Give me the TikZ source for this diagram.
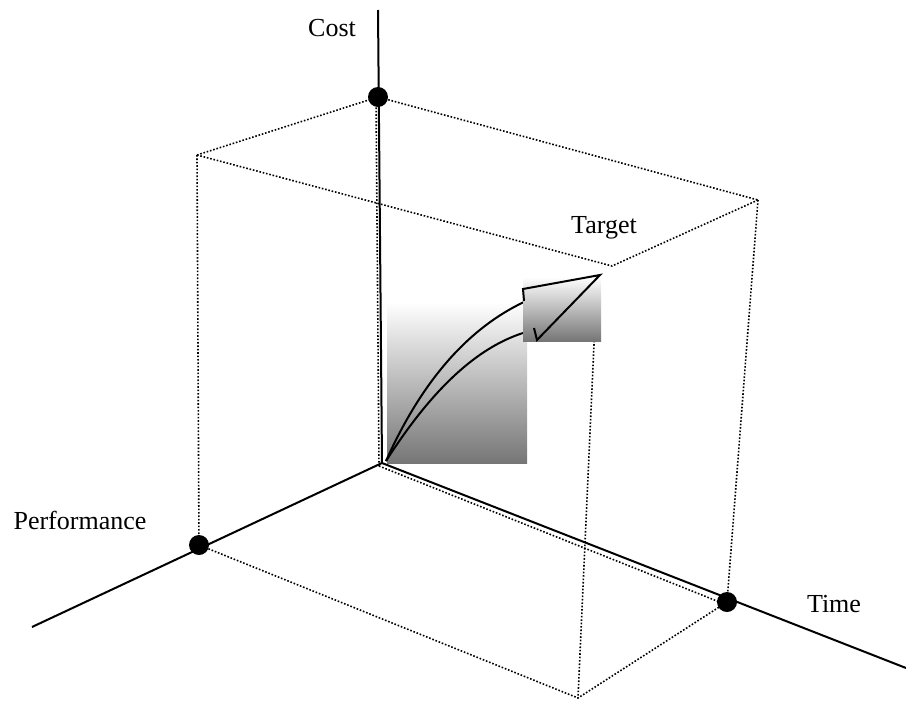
\documentclass[tikz,border=0pt]{standalone}
\usepackage{fontspec}
\setmainfont{Liberation Serif}
\definecolor{shadebot}{HTML}{767676}
\definecolor{shadetop}{HTML}{FFFFFF}
\begin{document}
\begin{tikzpicture}[x=1pt,y=-1pt,
  axis/.style={line width=2pt},
  hidden/.style={line width=1.6pt,dash pattern=on 1.6pt off 1.8pt},
  dot/.style={circle,fill=black,inner sep=0pt,minimum size=20pt},
  lbl/.style={font=\fontsize{26}{30}\selectfont,inner sep=0pt},
  arr/.style={line width=2pt,line join=miter},
  grad/.style={top color=shadetop,bottom color=shadebot,draw=none}]
\useasboundingbox (0,0) rectangle (906,702);
% coordinates
\coordinate (o) at (382,463);
\coordinate (oh) at (379,466);
\coordinate (costend) at (378,10);
\coordinate (perfend) at (32,627);
\coordinate (timeend) at (906,668);
\coordinate (a) at (197,155);
\coordinate (b) at (758,200);
\coordinate (f) at (612,266);
\coordinate (fv) at (596,300);
\coordinate (g) at (578,698);
% dotted box
\draw[hidden] (a) -- (f) -- (b);
\draw[hidden] (a) -- (378,97) -- (b);
\draw[hidden] (a) -- (199,545);
\draw[hidden] (b) -- (727,602);
\draw[hidden] (fv) -- (g);
\draw[hidden] (199,545) -- (g) -- (727,602);
\draw[hidden] (oh) -- (376,97);
\draw[hidden] (oh) -- (727,605);
% axes
\draw[axis] (o) -- (costend);
\draw[axis] (o) -- (perfend);
\draw[axis] (o) -- (timeend);
% dots
\node[dot] (c) at (378,97) {};
\node[dot] (p) at (199,545) {};
\node[dot] (t) at (727,602) {};
% gradient boxes
\fill[grad] (387,302) rectangle (527,463);
\coordinate (s0) at (386,461);
\coordinate (s1) at (524,302);
\coordinate (s2) at (523,333);
\draw[arr] (s0) .. controls (420,385) and (465,330) .. (s1);
\draw[arr] (s0) .. controls (425,400) and (470,350) .. (s2);
\fill[grad] (523,277) rectangle (601,341);
% arrow head
\coordinate (h1) at (524,301);
\coordinate (h2) at (523,289);
\coordinate (tip) at (600,275);
\coordinate (h3) at (537,340);
\coordinate (h4) at (534,328);
\draw[arr] (h1) -- (h2) -- (tip) -- (h3) -- (h4);
% labels
\node[lbl] (lcost) at (332,28) {Cost};
\node[lbl] (ltarget) at (604,228) {Target};
\node[lbl] (lperf) at (80,520) {Performance};
\node[lbl] (ltime) at (834,604) {Time};
\end{tikzpicture}
\end{document}
